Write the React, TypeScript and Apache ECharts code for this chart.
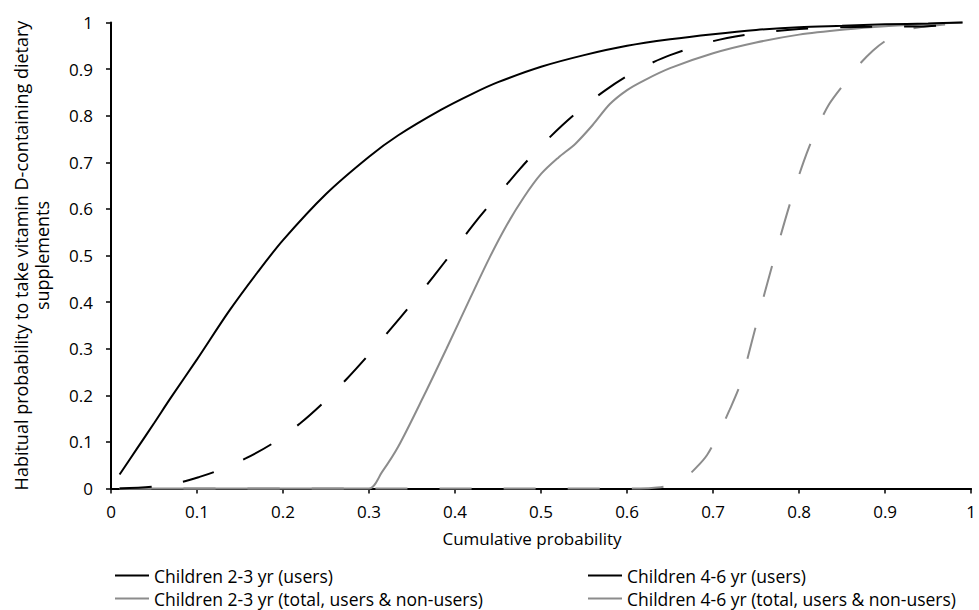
import { useEffect, useRef } from "react";
import * as echarts from "echarts";

const xAxisTitle = "Cumulative probability";
const yAxisTitle = "Habitual probability to take vitamin D-containing dietary\nsupplements";

const s1Name = "Children 2-3 yr (users)";
const s1X = [0.01, 0.03, 0.05, 0.07, 0.1, 0.137, 0.17, 0.2, 0.25, 0.3, 0.334, 0.384, 0.42, 0.45, 0.5, 0.55, 0.6, 0.65, 0.7, 0.75, 0.8, 0.85, 0.9, 0.95, 0.99];
const s1Y = [0.03, 0.085, 0.14, 0.196, 0.277, 0.38, 0.463, 0.533, 0.632, 0.712, 0.758, 0.813, 0.847, 0.872, 0.905, 0.93, 0.95, 0.964, 0.975, 0.984, 0.99, 0.993, 0.996, 0.998, 1.0];

const s2Name = "Children 4-6 yr (users)";
const s2X = [0.01, 0.05, 0.08, 0.103, 0.122, 0.157, 0.189, 0.22, 0.248, 0.274, 0.3, 0.324, 0.349, 0.375, 0.4, 0.425, 0.45, 0.475, 0.5, 0.525, 0.55, 0.575, 0.6, 0.625, 0.65, 0.7, 0.75, 0.8, 0.85, 0.9, 0.95, 0.99];
const s2Y = [0, 0.004, 0.013, 0.025, 0.037, 0.065, 0.098, 0.14, 0.186, 0.235, 0.288, 0.34, 0.395, 0.455, 0.515, 0.575, 0.63, 0.685, 0.735, 0.78, 0.82, 0.855, 0.885, 0.91, 0.93, 0.96, 0.977, 0.986, 0.99, 0.991, 0.992, 1.0];

const s3Name = "Children 2-3 yr (total, users & non-users)";
const s3X = [0.01, 0.1, 0.2, 0.3, 0.315, 0.334, 0.364, 0.39, 0.418, 0.44, 0.46, 0.48, 0.5, 0.52, 0.54, 0.56, 0.58, 0.6, 0.62, 0.65, 0.7, 0.75, 0.8, 0.853, 0.9, 0.95, 0.99];
const s3Y = [0, 0, 0, 0, 0.035, 0.09, 0.2, 0.3, 0.41, 0.495, 0.565, 0.625, 0.675, 0.71, 0.74, 0.78, 0.825, 0.855, 0.876, 0.902, 0.934, 0.957, 0.974, 0.985, 0.992, 0.997, 1.0];

const s4Name = "Children 4-6 yr (total, users & non-users)";
const s4X = [0.01, 0.3, 0.615, 0.635, 0.651, 0.667, 0.682, 0.693, 0.703, 0.719, 0.732, 0.745, 0.76, 0.775, 0.79, 0.805, 0.82, 0.835, 0.853, 0.87, 0.886, 0.9, 0.919, 0.94, 0.97, 0.99];
const s4Y = [0, 0, 0, 0.002, 0.0075, 0.022, 0.048, 0.072, 0.105, 0.168, 0.226, 0.315, 0.42, 0.52, 0.615, 0.7, 0.77, 0.825, 0.87, 0.91, 0.94, 0.96, 0.98, 0.99, 0.996, 1.0];

const FONT = "'Open Sans', 'Noto Sans', sans-serif";
const FS = 17;
const BLACK = "#000000";
const GRAY = "#8c8c8c";

const pairs = (xs: number[], ys: number[]) => xs.map((x, i) => [x, ys[i]]);

export default function App() {
  const ref = useRef<HTMLDivElement>(null);
  useEffect(() => {
    const chart = echarts.init(ref.current!, null, { renderer: "svg" });
    const mkSeries = (name: string, xs: number[], ys: number[], color: string, dashed: boolean) => ({
      name,
      type: "line",
      data: pairs(xs, ys),
      symbol: "none",
      smooth: 0.3,
      clip: false,
      color,
      lineStyle: { color, width: 2, type: dashed ? [32, 32] : "solid", cap: "butt" },
    });
    const legendBase = {
      orient: "vertical",
      top: 566,
      height: 42,
      padding: 0,
      itemGap: 4,
      itemWidth: 34,
      itemHeight: 2,
      icon: "rect",
      textStyle: { fontFamily: FONT, fontSize: 17.5, color: BLACK, lineHeight: 19 },
    };
    chart.setOption({
      animation: false,
      backgroundColor: "#ffffff",
      grid: { left: 111, right: 2, top: 22.5, bottom: 121.5, containLabel: false },
      xAxis: {
        type: "value",
        min: 0,
        max: 1,
        interval: 0.1,
        splitLine: { show: false },
        axisLine: { show: true, onZero: false, lineStyle: { color: BLACK, width: 2 } },
        axisTick: { show: true, length: 5, lineStyle: { color: BLACK, width: 1.5 } },
        axisLabel: { color: BLACK, fontFamily: FONT, fontSize: FS, margin: 14 },
      },
      yAxis: {
        type: "value",
        min: 0,
        max: 1,
        interval: 0.1,
        splitLine: { show: false },
        axisLine: { show: true, lineStyle: { color: BLACK, width: 2 } },
        axisTick: { show: true, length: 5, lineStyle: { color: BLACK, width: 1.5 } },
        axisLabel: { color: BLACK, fontFamily: FONT, fontSize: FS, margin: 18 },
      },
      legend: [
        { ...legendBase, left: 115, data: [s1Name, s3Name] },
        { ...legendBase, left: 588, data: [s2Name, s4Name] },
      ],
      graphic: [
        {
          type: "text",
          x: 532,
          y: 538,
          style: { text: xAxisTitle, fontFamily: FONT, fontSize: FS, fill: BLACK, align: "center", verticalAlign: "middle" },
        },
        {
          type: "text",
          x: 31,
          y: 255.5,
          rotation: Math.PI / 2,
          style: { text: yAxisTitle, fontFamily: FONT, fontSize: 18, fill: BLACK, align: "center", verticalAlign: "middle", lineHeight: 21 },
        },
      ],
      series: [
        mkSeries(s4Name, s4X, s4Y, GRAY, true),
        mkSeries(s3Name, s3X, s3Y, GRAY, false),
        mkSeries(s2Name, s2X, s2Y, BLACK, true),
        mkSeries(s1Name, s1X, s1Y, BLACK, false),
      ],
    });
    return () => chart.dispose();
  }, []);
  return <div ref={ref} style={{ position: "fixed", left: 0, top: 0, width: 979, height: 610 }} />;
}
